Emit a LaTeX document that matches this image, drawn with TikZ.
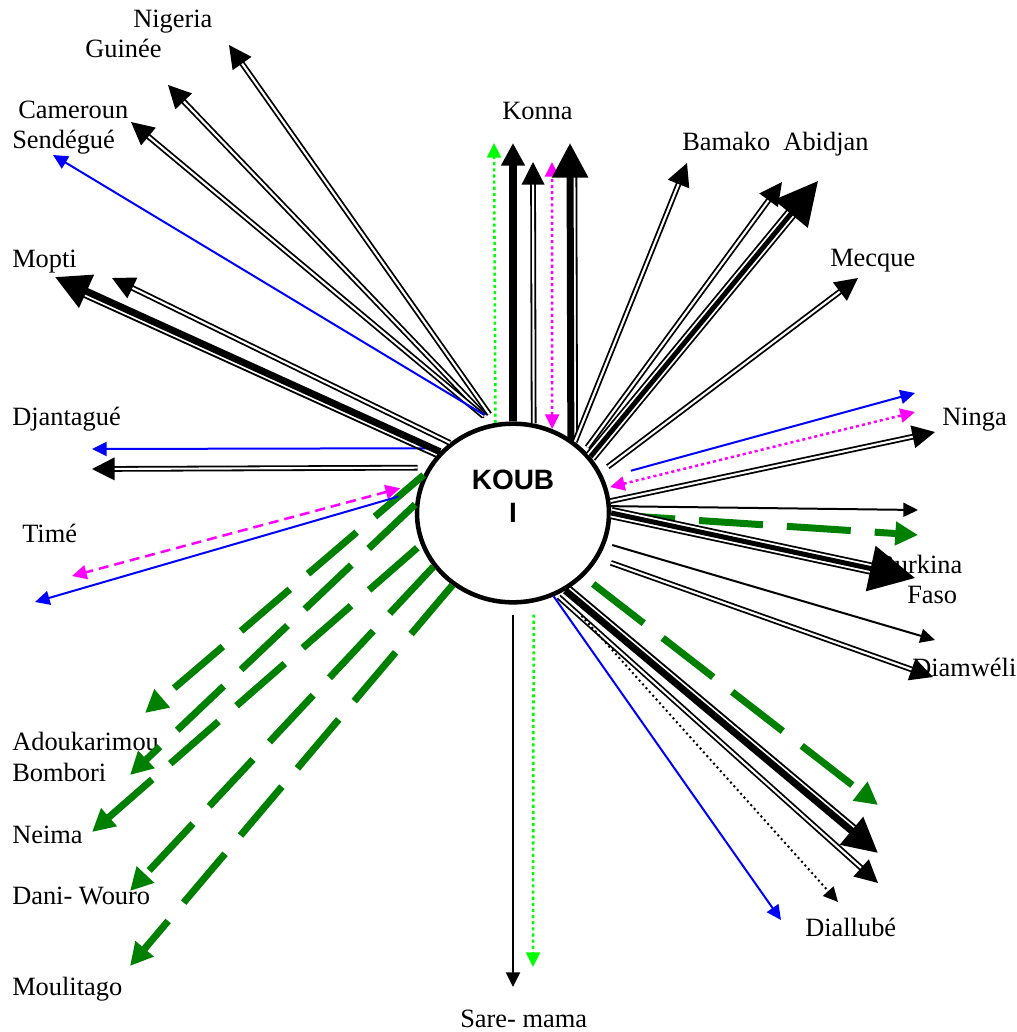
\documentclass[tikz,border=0pt]{standalone}
\usepackage{fontspec}
\setmainfont{Liberation Serif}
\newfontfamily\koubfont{Liberation Sans}
\usepackage{tikz}
\usetikzlibrary{arrows.meta,shapes.geometric,decorations}
\definecolor{darkgreen}{RGB}{0,128,0}
\definecolor{lightgreen}{RGB}{0,255,0}
\definecolor{pink}{RGB}{255,0,255}
\definecolor{pureblue}{RGB}{0,0,255}
\tikzset{%
    place/.style={font=\fontsize{19.8}{22.5}\selectfont, inner sep=0pt, anchor=base west},
    flow/.style={line width=1.5pt, -{Triangle[length=11pt,width=10.5pt]}},
    blueflow/.style={flow, draw=pureblue},
    blackdot/.style={flow, dash pattern=on 1.5pt off 2.3pt},
    twoline/.style={line width=1.35pt, double, double distance=1.6pt, -{Triangle[length=17pt,width=17pt]}},
    heavy/.style={line width=5.5pt, -{Triangle[length=17pt,width=17pt]}},
    greendash/.style={draw=darkgreen, line width=5.25pt, dash pattern=on 48pt off 18pt, -{Triangle[length=17pt,width=17pt]}},
    greendot/.style={draw=lightgreen, line width=1.9pt, dash pattern=on 2.3pt off 2.3pt, -{Triangle[length=11pt,width=10.5pt]}},
    pinkdot/.style={draw=pink, line width=1.9pt, dash pattern=on 2.3pt off 2.3pt, {Triangle[length=11pt,width=10.5pt]}-{Triangle[length=11pt,width=10.5pt]}},
    pinkdash/.style={pinkdot, dash pattern=on 7.5pt off 4.5pt},
    thickthin/.style={line width=5.25pt, -{Triangle[length=26pt,width=26pt]},
        postaction={draw, -, line width=1.35pt, decorate, decoration={curveto, raise=#1, post=moveto, post length=15pt}}},
    tripleline/.style={line width=3.75pt, -{Triangle[length=#1,width=#1]},
        preaction={draw, -, double, line width=1.35pt, double distance=6.5pt, shorten >=18pt}}
}

\begin{document}
\begin{tikzpicture}[x=0.75pt,y=-0.75pt]
\useasboundingbox (0,0) rectangle (1017,1032);

% places
\node[place] (nigeria)     at (133,27)   {Nigeria};
\node[place] (guinee)      at (85,57)    {Guinée};
\node[place] (cameroun)    at (18,118)   {Cameroun};
\node[place] (sendegue)    at (12,148)   {Sendégué};
\node[place] (mopti)       at (12,267)   {Mopti};
\node[place] (djantague)   at (12,425)   {Djantagué};
\node[place] (time)        at (22,542)   {Timé};
\node[place] (adoukarimou) at (12,750)   {Adoukarimou};
\node[place] (bombori)     at (12,781)   {Bombori};
\node[place] (neima)       at (12,843)   {Neima};
\node[place] (daniwouro)   at (12,904)   {Dani- Wouro};
\node[place] (moulitago)   at (12,995)   {Moulitago};
\node[place] (saremama)    at (460,1027) {Sare- mama};
\node[place] (diallube)    at (805,936)  {Diallubé};
\node[place] (diamweli)    at (912,676)  {Diamwéli};
\node[place] (burkina)     at (877,573)  {Burkina};
\node[place] (faso)        at (907,603)  {Faso};
\node[place] (ninga)       at (942,425)  {Ninga};
\node[place] (mecque)      at (830,266)  {Mecque};
\node[place] (bamako)      at (682,150)  {Bamako~~Abidjan};
\node[place] (konna)       at (502,119)  {Konna};

% the village
\node[ellipse, draw, line width=3.4pt, fill=white, inner sep=0pt,
      minimum width=144pt, minimum height=134pt] (koub) at (513,513) {};
\node[font=\koubfont\bfseries\fontsize{21}{24.75}\selectfont, align=center] (koubname) at (513,496) {KOUB\\I};

% arrow ends
\coordinate (to-nigeria)    at (229,45);
\coordinate (to-guinee)     at (168,85);
\coordinate (to-cameroun)   at (131,122);
\coordinate (to-sendegue)   at (53,155);
\coordinate (to-konna1)     at (494,143);
\coordinate (to-konna2)     at (513,143);
\coordinate (to-konna3)     at (533,162);
\coordinate (to-konna4)     at (552,162);
\coordinate (to-konna5)     at (570,143);
\coordinate (to-bamako)     at (687,163);
\coordinate (to-abidjan1)   at (782,182);
\coordinate (to-abidjan2)   at (818,181);
\coordinate (to-mecque)     at (858,278);
\coordinate (to-ninga1)     at (915,393);
\coordinate (to-ninga2)     at (915,412);
\coordinate (to-ninga3)     at (935,432);
\coordinate (to-east)       at (918,510);
\coordinate (to-burkina1)   at (918,535);
\coordinate (to-burkina2)   at (915,578);
\coordinate (to-diamweli1)  at (935,640);
\coordinate (to-diamweli2)  at (933,677);
\coordinate (to-southeast)  at (878,805);
\coordinate (to-diallube1)  at (878,853);
\coordinate (to-diallube2)  at (878,883);
\coordinate (to-diallube3)  at (838,902);
\coordinate (to-diallube4)  at (781,920);
\coordinate (to-saremama1)  at (513,987);
\coordinate (to-saremama2)  at (533,967);
\coordinate (to-adoukarimou) at (145,713);
\coordinate (to-bombori)    at (130,775);
\coordinate (to-neima)      at (92,832);
\coordinate (to-daniwouro)  at (130,891);
\coordinate (to-moulitago)  at (130,966);
\coordinate (to-time1)      at (72,576);
\coordinate (to-time2)      at (35,602);
\coordinate (to-djantague1) at (92,449);
\coordinate (to-djantague2) at (92,469);
\coordinate (to-mopti1)     at (55,277);
\coordinate (to-mopti2)     at (112,278);

% upper left
\draw[twoline, shorten <=8pt]   (koub.101.7) -- (to-nigeria);
\draw[twoline, shorten <=7.5pt] (koub.103)   -- (to-guinee);
\draw[twoline, shorten <=8.5pt] (koub.103.9) -- (to-cameroun);
\draw[blueflow, shorten <=11pt] (koub.100.7) -- (to-sendegue);

% Konna
\draw[greendot]       (koub.101.9) -- (to-konna1);
\draw[heavy]          (koub.90)    -- (to-konna2);
\draw[twoline]        (koub.77.5)  -- (to-konna3);
\draw[pinkdot]        (koub.65.2)  -- (to-konna4);
\draw[thickthin=-4.7pt] (koub.52.7) -- (to-konna5);

% upper right
\draw[twoline]                  (koub.49.8) -- (to-bamako);
\draw[twoline, shorten <=3pt]   (koub.41.7) -- (to-abidjan1);
\draw[tripleline=32pt]          (koub.36.5) -- (to-abidjan2);
\draw[twoline, shorten <=6.5pt] (koub.25.8) -- (to-mecque);

% right
\draw[blueflow, shorten <=21pt] (koub.21)    -- (to-ninga1);
\draw[pinkdot, shorten <=2pt]   (koub.15)    -- (to-ninga2);
\draw[twoline]                  (koub.7.5)   -- (to-ninga3);
\draw[flow]                     (koub.4)     -- (to-east);
\draw[greendash]                (koub.-1.2)  -- (to-burkina1);
\draw[tripleline=34pt]          (koub.0)     -- (to-burkina2);
\draw[flow, shorten <=5pt]      (koub.-18.4) -- (to-diamweli1);
\draw[twoline, shorten <=10pt]  (koub.-28.2) -- (to-diamweli2);

% lower right
\draw[greendash, shorten <=9pt] (koub.-42.3) -- (to-southeast);
\draw[thickthin=4.7pt]          (koub.-56.2) -- (to-diallube1);
\draw[twoline, shorten <=2pt]   (koub.-62.1) -- (to-diallube2);
\draw[blackdot, shorten <=23pt] (koub.-59.1) -- (to-diallube3);
\draw[blueflow]                 (koub.-64.6) -- (to-diallube4);

% down
\draw[flow, shorten <=7.5pt]    (koub.-90)   -- (to-saremama1);
\draw[greendot, shorten <=9pt]  (koub.-77.5) -- (to-saremama2);

% lower left
\draw[greendash]                  (koub.157.3) -- (to-adoukarimou);
\draw[greendash]                  (koub.175.8) -- (to-bombori);
\draw[greendash, shorten <=3.5pt] (koub.199.5) -- (to-neima);
\draw[greendash]                  (koub.214.4) -- (to-daniwouro);
\draw[greendash]                  (koub.230.8) -- (to-moulitago);

% left
\draw[pinkdash, shorten <=15.5pt] (koub.162.8) -- (to-time1);
\draw[blueflow, shorten <=15pt]   (koub.167.7) -- (to-time2);
\draw[blueflow, shorten <=4pt]    (koub.137.7) -- (to-djantague1);
\draw[twoline, shorten <=7.5pt]   (koub.152.9) -- (to-djantague2);
\draw[thickthin=4.7pt]            (koub.140.3) -- (to-mopti1);
\draw[twoline]                    (koub.132.9) -- (to-mopti2);
\end{tikzpicture}
\end{document}
